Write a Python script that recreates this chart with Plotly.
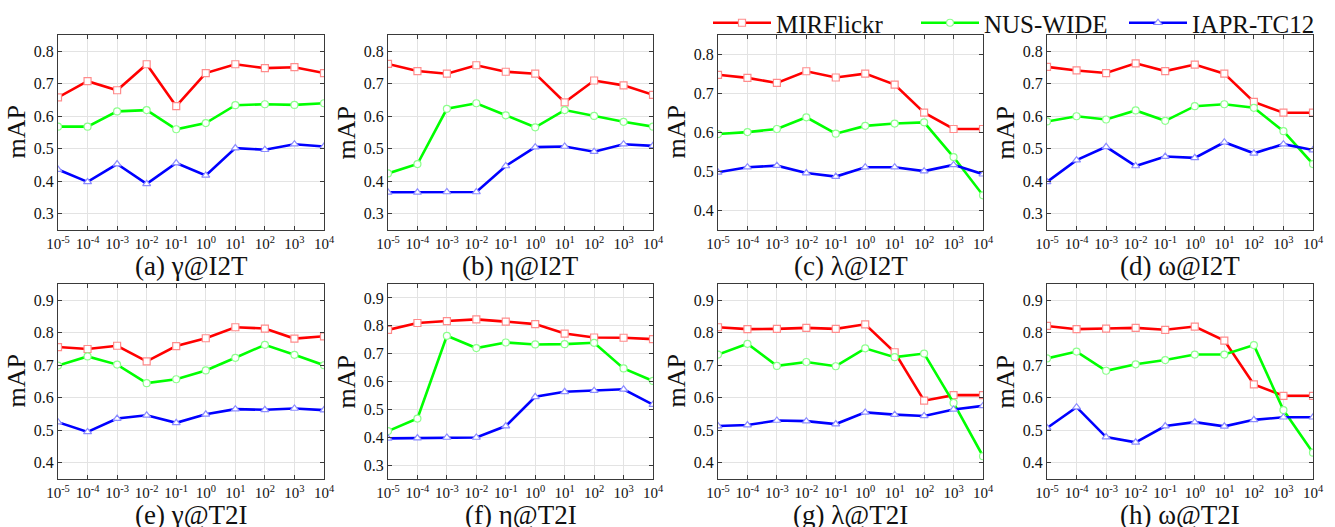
import plotly.graph_objects as go

# ---------------- data ----------------
params = ["10<sup>-5</sup>", "10<sup>-4</sup>", "10<sup>-3</sup>", "10<sup>-2</sup>", "10<sup>-1</sup>",
          "10<sup>0</sup>", "10<sup>1</sup>", "10<sup>2</sup>", "10<sup>3</sup>", "10<sup>4</sup>"]
series_names = ["MIRFlickr", "NUS-WIDE", "IAPR-TC12"]
panel_titles = ["(a) γ@I2T", "(b) η@I2T", "(c) λ@I2T", "(d) ω@I2T",
                "(e) γ@T2I", "(f) η@T2I", "(g) λ@T2I", "(h) ω@T2I"]

# (a) gamma @ I2T
mir_a = [0.658, 0.708, 0.680, 0.760, 0.631, 0.733, 0.760, 0.748, 0.751, 0.733]
nus_a = [0.568, 0.568, 0.615, 0.619, 0.560, 0.579, 0.634, 0.637, 0.635, 0.640]
iapr_a = [0.436, 0.398, 0.453, 0.392, 0.456, 0.418, 0.502, 0.497, 0.514, 0.507]
# (b) eta @ I2T
mir_b = [0.761, 0.739, 0.731, 0.757, 0.737, 0.731, 0.643, 0.710, 0.695, 0.666]
nus_b = [0.424, 0.453, 0.623, 0.640, 0.603, 0.566, 0.619, 0.601, 0.583, 0.568]
iapr_b = [0.366, 0.366, 0.367, 0.367, 0.447, 0.505, 0.507, 0.491, 0.514, 0.509]
# (c) lambda @ I2T
mir_c = [0.748, 0.740, 0.727, 0.757, 0.741, 0.751, 0.723, 0.651, 0.609, 0.609]
nus_c = [0.596, 0.601, 0.609, 0.639, 0.597, 0.617, 0.623, 0.626, 0.537, 0.439]
iapr_c = [0.498, 0.511, 0.515, 0.496, 0.487, 0.511, 0.511, 0.501, 0.517, 0.493]
# (d) omega @ I2T
mir_d = [0.752, 0.741, 0.733, 0.763, 0.739, 0.759, 0.731, 0.644, 0.611, 0.611]
nus_d = [0.584, 0.600, 0.590, 0.618, 0.586, 0.631, 0.637, 0.626, 0.554, 0.453]
iapr_d = [0.398, 0.465, 0.506, 0.447, 0.476, 0.472, 0.520, 0.486, 0.514, 0.496]
# (e) gamma @ T2I
mir_e = [0.756, 0.750, 0.760, 0.712, 0.759, 0.783, 0.817, 0.813, 0.782, 0.789]
nus_e = [0.699, 0.727, 0.702, 0.645, 0.657, 0.684, 0.723, 0.763, 0.732, 0.700]
iapr_e = [0.525, 0.495, 0.536, 0.546, 0.523, 0.549, 0.565, 0.563, 0.567, 0.562]
# (f) eta @ T2I
mir_f = [0.785, 0.810, 0.817, 0.823, 0.815, 0.806, 0.772, 0.758, 0.757, 0.752]
nus_f = [0.422, 0.467, 0.764, 0.720, 0.740, 0.733, 0.734, 0.739, 0.647, 0.602]
iapr_f = [0.396, 0.397, 0.399, 0.399, 0.440, 0.545, 0.563, 0.567, 0.572, 0.517]
# (g) lambda @ T2I
mir_g = [0.817, 0.811, 0.812, 0.815, 0.812, 0.826, 0.740, 0.591, 0.608, 0.608]
nus_g = [0.733, 0.766, 0.698, 0.710, 0.697, 0.752, 0.725, 0.736, 0.584, 0.420]
iapr_g = [0.513, 0.516, 0.530, 0.528, 0.519, 0.555, 0.548, 0.544, 0.564, 0.575]
# (h) omega @ T2I
mir_h = [0.821, 0.811, 0.813, 0.815, 0.809, 0.819, 0.776, 0.641, 0.606, 0.606]
nus_h = [0.721, 0.742, 0.683, 0.703, 0.716, 0.733, 0.733, 0.762, 0.562, 0.431]
iapr_h = [0.507, 0.571, 0.479, 0.463, 0.513, 0.525, 0.512, 0.532, 0.540, 0.540]

panels = [
    (mir_a, nus_a, iapr_a), (mir_b, nus_b, iapr_b), (mir_c, nus_c, iapr_c), (mir_d, nus_d, iapr_d),
    (mir_e, nus_e, iapr_e), (mir_f, nus_f, iapr_f), (mir_g, nus_g, iapr_g), (mir_h, nus_h, iapr_h),
]
y_ranges = [[0.25, 0.85], [0.25, 0.85], [0.35, 0.85], [0.25, 0.85],
            [0.35, 0.95], [0.25, 0.95], [0.35, 0.95], [0.35, 0.95]]

# ---------------- style ----------------
W, H = 1335, 527
FONT = "Liberation Serif"
line_colors = ["#ff0000", "#00ff00", "#0000ff"]
edge_colors = ["#ff8c8c", "#8cff8c", "#8c8cff"]
symbols = ["square", "circle", "triangle-up"]

col_px = [(58, 324), (388, 653), (718, 983), (1047, 1313)]
row_px = [(35, 230), (284, 479)]
caption_px = [266, 515]

fig = go.Figure()

for i, data in enumerate(panels):
    r, c = divmod(i, 4)
    ax = "" if i == 0 else str(i + 1)
    for k, vals in enumerate(data):
        fig.add_trace(go.Scatter(
            x=params, y=vals, name=series_names[k],
            mode="lines+markers",
            line=dict(color=line_colors[k], width=2.6),
            marker=dict(symbol=symbols[k], size=7, color="white",
                        line=dict(color=edge_colors[k], width=1.2)),
            showlegend=(i == 0),
            xaxis="x" + ax, yaxis="y" + ax,
        ))
    x0, x1 = col_px[c]
    y0, y1 = row_px[r]
    fig.layout["xaxis" + ax] = dict(
        domain=[x0 / W, x1 / W], anchor="y" + ax, type="category",
        range=[0, 9], showgrid=True, gridcolor="#e3e3e3", gridwidth=1,
        showline=True, linecolor="#3a3a3a", linewidth=1, mirror="allticks",
        ticks="inside", ticklen=4, tickcolor="#3a3a3a", tickangle=0,
        tickfont=dict(family=FONT, size=15, color="#111"), zeroline=False,
    )
    fig.layout["yaxis" + ax] = dict(
        domain=[1 - y1 / H, 1 - y0 / H], anchor="x" + ax,
        range=y_ranges[i], dtick=0.1, tick0=0, tickformat=".1f",
        showgrid=True, gridcolor="#e3e3e3", gridwidth=1,
        showline=True, linecolor="#3a3a3a", linewidth=1, mirror="allticks",
        ticks="inside", ticklen=4, tickcolor="#3a3a3a",
        tickfont=dict(family=FONT, size=16, color="#111"), zeroline=False,
    )
    # panel caption
    fig.add_annotation(text=panel_titles[i], xref="paper", yref="paper",
                       x=(x0 + x1) / 2 / W, y=1 - caption_px[r] / H,
                       xanchor="center", yanchor="middle", showarrow=False,
                       font=dict(family=FONT, size=27, color="#111"))
    # y-axis title
    fig.add_annotation(text="mAP", xref="paper", yref="paper",
                       x=(x0 - 42) / W, y=1 - (y0 + y1) / 2 / H,
                       xanchor="center", yanchor="middle", textangle=-90, showarrow=False,
                       font=dict(family=FONT, size=26, color="#111"))

fig.update_layout(
    width=W, height=H, margin=dict(l=0, r=0, t=0, b=0, autoexpand=False),
    paper_bgcolor="white", plot_bgcolor="white",
    font=dict(family=FONT, color="#111"),
    legend=dict(orientation="h", x=708 / W, xanchor="left", y=1.0, yanchor="top",
                font=dict(family=FONT, size=25, color="#111"),
                bgcolor="rgba(0,0,0,0)", itemwidth=58, tracegroupgap=0,
                entrywidth=135, entrywidthmode="pixels"),
)

fig.write_html("out.html", config={"displayModeBar": False},
               post_script="document.body.style.margin='0';document.body.style.overflow='hidden';")
